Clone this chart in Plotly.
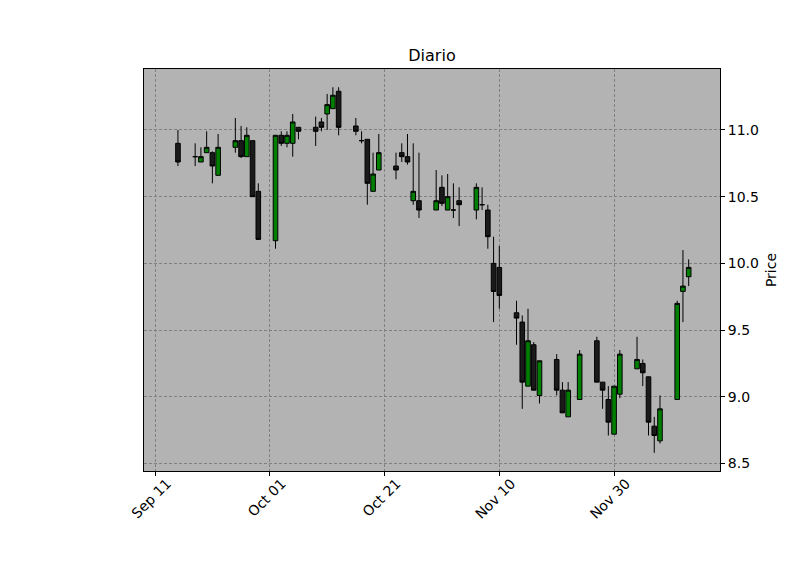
import plotly.graph_objects as go

dates = ["2023-09-15", "2023-09-18", "2023-09-19", "2023-09-20", "2023-09-21", "2023-09-22",
         "2023-09-25", "2023-09-26", "2023-09-27", "2023-09-28", "2023-09-29",
         "2023-10-02", "2023-10-03", "2023-10-04", "2023-10-05", "2023-10-06",
         "2023-10-09", "2023-10-10", "2023-10-11", "2023-10-12", "2023-10-13",
         "2023-10-16", "2023-10-17", "2023-10-18", "2023-10-19", "2023-10-20",
         "2023-10-23", "2023-10-24", "2023-10-25", "2023-10-26", "2023-10-27",
         "2023-10-30", "2023-10-31", "2023-11-01", "2023-11-02", "2023-11-03",
         "2023-11-06", "2023-11-07", "2023-11-08", "2023-11-09", "2023-11-10",
         "2023-11-13", "2023-11-14", "2023-11-15", "2023-11-16", "2023-11-17",
         "2023-11-20", "2023-11-21", "2023-11-22", "2023-11-24",
         "2023-11-27", "2023-11-28", "2023-11-29", "2023-11-30", "2023-12-01",
         "2023-12-04", "2023-12-05", "2023-12-06", "2023-12-07", "2023-12-08",
         "2023-12-11", "2023-12-12", "2023-12-13"]

open_ = [10.90, 10.80, 10.76, 10.83, 10.83, 10.66,
         10.87, 10.92, 10.80, 10.92, 10.54,
         10.17, 10.96, 10.90, 10.90, 11.02,
         11.02, 11.06, 11.12, 11.16, 11.29,
         11.03, 10.92, 10.93, 10.54, 10.70,
         10.73, 10.83, 10.80, 10.47, 10.47,
         10.40, 10.57, 10.40, 10.40, 10.47,
         10.40, 10.44, 10.40, 10.00, 9.97,
         9.63, 9.56, 9.08, 9.39, 9.01,
         9.28, 9.05, 8.85, 8.98,
         9.42, 9.11, 8.98, 8.72, 9.02,
         9.21, 9.25, 9.15, 8.78, 8.67,
         8.98, 9.79, 9.90]

high = [11.00, 10.90, 10.87, 10.99, 10.84, 10.97,
        11.09, 11.03, 11.02, 10.92, 10.60,
        10.96, 10.99, 10.99, 11.12, 11.02,
        11.10, 11.09, 11.27, 11.32, 11.32,
        11.09, 10.99, 10.93, 10.83, 10.97,
        10.83, 10.90, 10.97, 10.90, 10.83,
        10.70, 10.66, 10.67, 10.60, 10.57,
        10.60, 10.57, 10.44, 10.20, 10.13,
        9.72, 9.61, 9.66, 9.41, 9.27,
        9.32, 9.11, 9.11, 9.35,
        9.45, 9.11, 9.08, 9.08, 9.35,
        9.45, 9.28, 9.15, 8.85, 9.01,
        9.72, 10.10, 10.03]

low = [10.73, 10.73, 10.76, 10.83, 10.60, 10.66,
       10.83, 10.79, 10.80, 10.50, 10.18,
       10.11, 10.88, 10.87, 10.80, 10.93,
       10.88, 10.99, 11.00, 11.16, 10.96,
       10.96, 10.90, 10.44, 10.54, 10.70,
       10.63, 10.76, 10.74, 10.44, 10.34,
       10.40, 10.43, 10.40, 10.34, 10.28,
       10.33, 10.40, 10.11, 9.56, 9.66,
       9.39, 8.91, 9.08, 9.05, 8.95,
       9.01, 8.88, 8.85, 8.98,
       9.11, 8.91, 8.71, 8.72, 8.99,
       9.21, 9.08, 8.71, 8.58, 8.65,
       8.98, 9.56, 9.83]

close = [10.76, 10.80, 10.80, 10.87, 10.73, 10.87,
         10.92, 10.80, 10.96, 10.50, 10.18,
         10.96, 10.90, 10.96, 11.06, 10.99,
         10.99, 11.02, 11.19, 11.26, 11.02,
         10.99, 10.92, 10.60, 10.67, 10.83,
         10.70, 10.80, 10.76, 10.54, 10.40,
         10.47, 10.45, 10.50, 10.40, 10.44,
         10.57, 10.44, 10.20, 9.79, 9.76,
         9.59, 9.11, 9.42, 9.05, 9.27,
         9.05, 8.88, 9.05, 9.32,
         9.11, 9.05, 8.81, 9.08, 9.32,
         9.28, 9.18, 8.81, 8.71, 8.91,
         9.70, 9.83, 9.97]

tick_dates = ["2023-09-11", "2023-10-01", "2023-10-21", "2023-11-10", "2023-11-30"]
tick_labels = ["Sep 11", "Oct 01", "Oct 21", "Nov 10", "Nov 30"]
y_ticks = [8.5, 9.0, 9.5, 10.0, 10.5, 11.0]

fig = go.Figure()
fig.add_trace(go.Candlestick(
    x=dates, open=open_, high=high, low=low, close=close,
    increasing=dict(fillcolor="#008000", line=dict(color="#000000", width=1)),
    decreasing=dict(fillcolor="#1a1a1a", line=dict(color="#000000", width=1)),
    whiskerwidth=0, showlegend=False, hoverinfo="x+y",
))

# page body adds an 8px offset; margins compensate so the axes land at 144..720 x 69..471
OFF = 8
fig.update_layout(
    width=800, height=575,
    margin=dict(l=144 - OFF, r=800 - 720 + OFF, t=69 - OFF, b=575 - 471 + OFF),
    paper_bgcolor="white", plot_bgcolor="#b3b3b3",
    font=dict(family="DejaVu Sans", size=14, color="black"),
    boxgap=0.2, boxgroupgap=0.0,
    title=dict(text="Diario", x=0.5, xref="paper", xanchor="center",
               y=1 - (55 - OFF) / 575, yref="container", yanchor="middle",
               font=dict(size=16, color="black")),
    showlegend=False,
)

fig.update_xaxes(
    type="date", range=["2023-09-09 02:00", "2023-12-18 11:00"],
    rangeslider=dict(visible=False),
    tickvals=tick_dates, ticktext=tick_labels, tickangle=-45,
    ticklabelshift=12, ticklabelstandoff=-6,
    ticks="outside", ticklen=4, tickcolor="black",
    showline=True, mirror=True, linecolor="black", linewidth=1,
    showgrid=True, gridcolor="#808080", griddash="3px,2px", gridwidth=1,
    zeroline=False,
)
fig.update_yaxes(
    side="right", range=[8.444, 11.457],
    tickvals=y_ticks, ticktext=[f"{v:.1f}" for v in y_ticks],
    ticks="outside", ticklen=4, tickcolor="black",
    showline=True, mirror=True, linecolor="black", linewidth=1,
    showgrid=True, gridcolor="#808080", griddash="3px,2px", gridwidth=1,
    zeroline=False,
    title=dict(text="Price", font=dict(size=14), standoff=8),
)

fig.write_html("out.html")
